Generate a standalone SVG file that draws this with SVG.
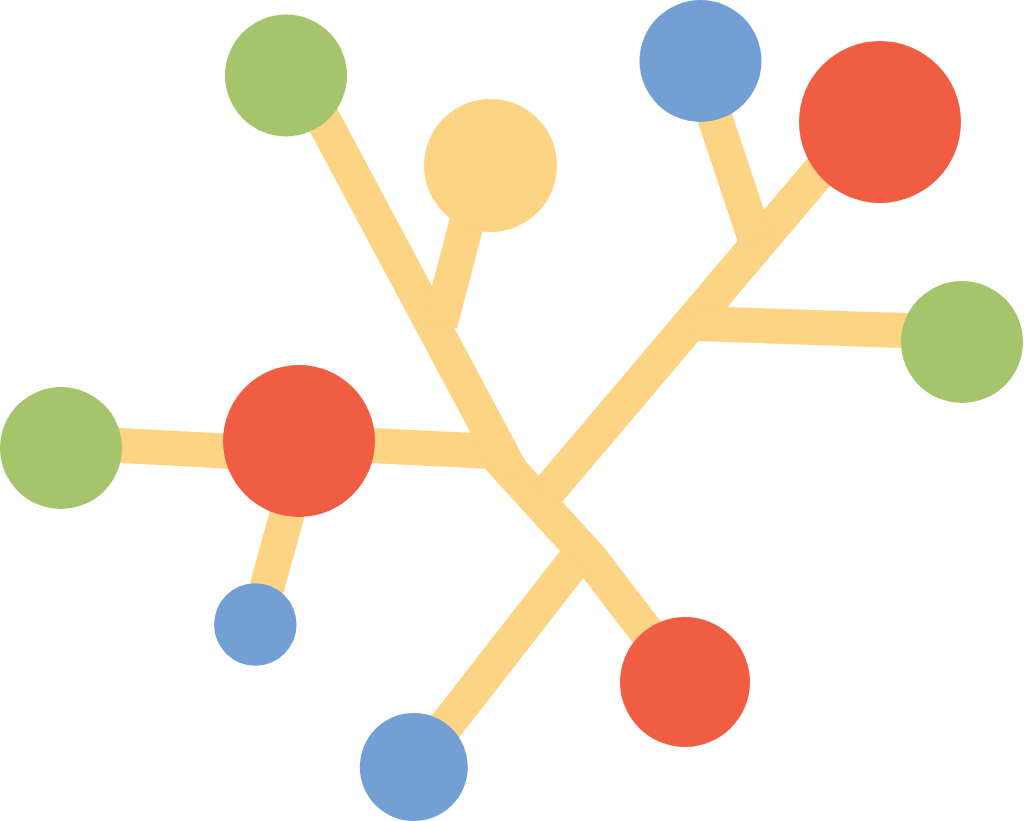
<svg xmlns="http://www.w3.org/2000/svg" width="1024" height="821" viewBox="0 0 1024 821">
  <style>
    .link { fill: none; stroke: #FDD384; stroke-width: 35; stroke-linecap: butt; stroke-linejoin: miter; }
    .green { fill: #A5C46B; }
    .yellow { fill: #FDD384; }
    .blue { fill: #739FD4; }
    .red { fill: #F15D43; }
  </style>
  <rect width="1024" height="821" fill="#FFFFFF"/>
  <g id="connectors">
    <line class="link" x1="61" y1="442.2" x2="299" y2="455.1"/>
    <polyline class="link" points="299,442 492.8,451.4 590.2,558.3 682,678"/>
    <line class="link" x1="300" y1="76" x2="513" y2="475"/>
    <line class="link" x1="482" y1="165" x2="440" y2="324"/>
    <line class="link" x1="307" y1="441" x2="257" y2="624"/>
    <line class="link" x1="413.8" y1="767" x2="574.5" y2="561"/>
    <line class="link" x1="546" y1="494" x2="840" y2="147"/>
    <line class="link" x1="695" y1="323.5" x2="962" y2="332.6"/>
    <line class="link" x1="696" y1="61" x2="755.6" y2="240"/>
  </g>
  <g id="node-green-top"><circle class="green" cx="286" cy="75.5" r="61"/></g>
  <g id="node-yellow"><circle class="yellow" cx="490.5" cy="165.5" r="66.5"/></g>
  <g id="node-blue-top"><circle class="blue" cx="700.5" cy="61" r="61"/></g>
  <g id="node-red-top"><circle class="red" cx="880" cy="122" r="81"/></g>
  <g id="node-green-right"><circle class="green" cx="962" cy="342" r="61"/></g>
  <g id="node-green-left"><circle class="green" cx="61" cy="448" r="61"/></g>
  <g id="node-red-left"><circle class="red" cx="299" cy="441" r="76"/></g>
  <g id="node-blue-small"><circle class="blue" cx="255.3" cy="624.5" r="41.3"/></g>
  <g id="node-blue-bottom"><circle class="blue" cx="413.8" cy="767" r="54"/></g>
  <g id="node-red-bottom"><circle class="red" cx="685" cy="682" r="65"/></g>
</svg>
